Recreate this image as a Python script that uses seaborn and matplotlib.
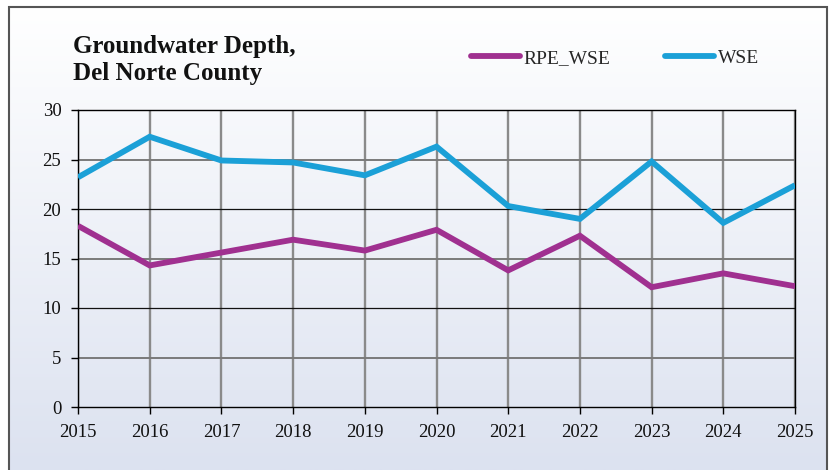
import numpy as np
import pandas as pd
import matplotlib
matplotlib.use('Agg')
import matplotlib.pyplot as plt
from matplotlib.colors import LinearSegmentedColormap
from matplotlib.patches import Rectangle
from matplotlib.lines import Line2D
import seaborn as sns

# ── data ──
years = [2015, 2016, 2017, 2018, 2019, 2020, 2021, 2022, 2023, 2024, 2025]
rpe_wse = [18.3, 14.3, 15.6, 16.9, 15.8, 17.9, 13.8, 17.3, 12.1, 13.5, 12.2]
wse = [23.2, 27.3, 24.9, 24.7, 23.4, 26.3, 20.3, 19.0, 24.8, 18.6, 22.4]
series_names = ['RPE_WSE', 'WSE']
title_text = 'Groundwater Depth,\nDel Norte County'

df = pd.DataFrame({
    'Year': years * 2,
    'Depth': rpe_wse + wse,
    'Series': [series_names[0]] * len(years) + [series_names[1]] * len(years),
})

sns.set_style('white')
plt.rcParams['font.family'] = ['Liberation Serif', 'DejaVu Serif']

W, H = 831, 470
fig = plt.figure(figsize=(W / 100, H / 100), dpi=100)

# gradient background inside the outer frame
bg = fig.add_axes([0, 0, 1, 1], zorder=-10)
grad = LinearSegmentedColormap.from_list('bg', ['#FFFFFF', '#DCE2F0'])
bg.imshow(np.linspace(0, 1, 256).reshape(-1, 1), aspect='auto', cmap=grad,
          extent=[9 / W, 827 / W, 0, 1 - 7 / H], origin='upper')
bg.set_xlim(0, 1)
bg.set_ylim(0, 1)
bg.add_patch(Rectangle((9 / W, -0.02), (827 - 9) / W, 1.02 - 7 / H,
                       fill=False, edgecolor='#555555', lw=1.5))
bg.axis('off')

ax = fig.add_axes([78 / W, 1 - 407 / H, (795 - 78) / W, (407 - 110) / H])
ax.set_facecolor('none')

# grid lines
for x in years:
    ax.axvline(x, color='#8A8A8A', lw=1.7, zorder=1)
for y in range(5, 30, 5):
    if y % 10 == 0:
        ax.axhline(y, color='#111111', lw=0.9, zorder=1)
    else:
        ax.axhline(y, color='#7A7A7A', lw=1.4, zorder=1)

palette = {'RPE_WSE': '#A03090', 'WSE': '#1BA0D7'}
sns.lineplot(data=df, x='Year', y='Depth', hue='Series', palette=palette,
             linewidth=4.2, ax=ax, legend=False, zorder=3,
             solid_capstyle='butt', solid_joinstyle='miter')

ax.set_xlim(2015, 2025)
ax.set_ylim(0, 30)
ax.set_xticks(years)
ax.set_yticks(range(0, 31, 5))
ax.set_xlabel('')
ax.set_ylabel('')
ax.tick_params(axis='both', labelsize=13.5, color='black', length=5,
               width=1, direction='out', labelcolor='#111111')
ax.tick_params(axis='x', bottom=True, pad=7)
ax.tick_params(axis='y', left=True, pad=7)
for s in ax.spines.values():
    s.set_color('black')
    s.set_linewidth(1)
    s.set_visible(True)

fig.text(73 / W, 1 - 60 / H, title_text, fontsize=18, fontweight='bold',
         va='center', ha='left', linespacing=1.22, color='#111111')

# legend
handles = [Line2D([0], [0], color=palette[n], lw=4.2, solid_capstyle='round')
           for n in series_names]
fig.legend(handles, series_names, loc='center', bbox_to_anchor=(615 / W, 1 - 58 / H),
           ncol=2, frameon=False, fontsize=14, handlelength=2.5,
           handletextpad=0.2, columnspacing=2.8)

fig.savefig('out.png', dpi=100)
